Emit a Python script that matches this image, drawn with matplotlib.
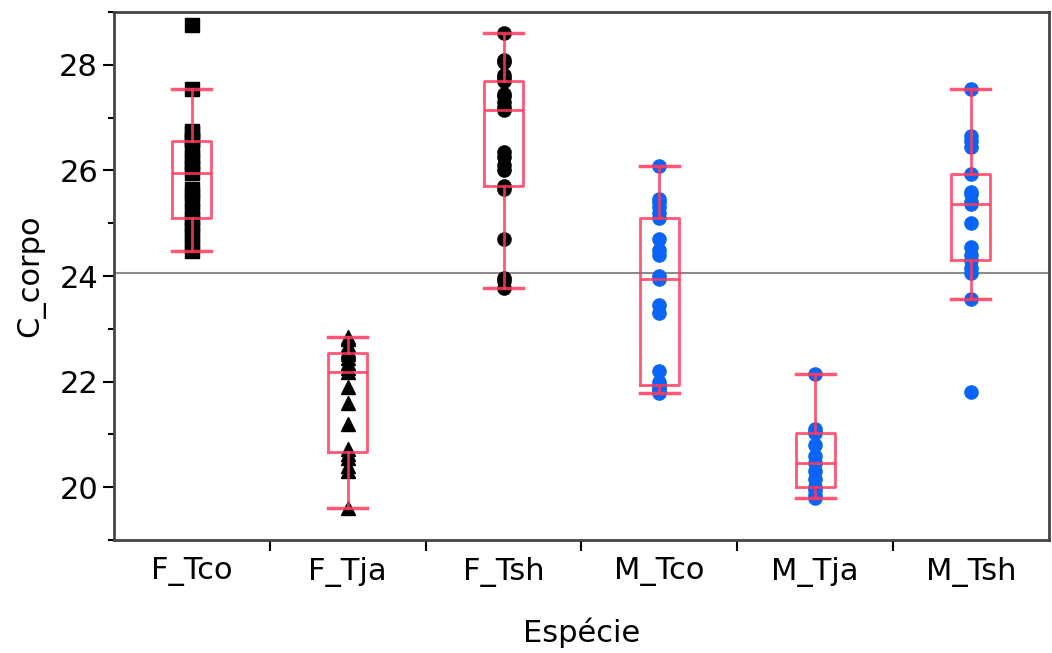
import numpy as np
import matplotlib
matplotlib.use("Agg")
import matplotlib.pyplot as plt
from matplotlib.ticker import MultipleLocator

species = ["F_Tco", "F_Tja", "F_Tsh", "M_Tco", "M_Tja", "M_Tsh"]

f_tco = [24.48, 24.6, 24.75, 24.9, 25.0, 25.1, 25.25, 25.4, 25.55, 25.65, 25.95,
         26.05, 26.15, 26.25, 26.4, 26.55, 26.6, 26.7, 26.75, 27.55, 28.75]
f_tja = [19.6, 20.3, 20.4, 20.55, 20.62, 20.72, 21.2, 21.6, 21.9, 22.18,
         22.25, 22.35, 22.45, 22.52, 22.56, 22.6, 22.7, 22.8, 22.85]
f_tsh = [23.78, 23.9, 23.97, 24.7, 25.65, 25.7, 26.0, 26.1, 26.25, 26.35, 27.15,
         27.2, 27.3, 27.4, 27.45, 27.7, 27.75, 27.8, 28.05, 28.1, 28.6]
m_tco = [21.78, 21.8, 21.85, 21.9, 21.92, 21.93, 22.0, 22.2, 23.3, 23.45, 23.95,
         24.0, 24.4, 24.5, 24.7, 25.09, 25.2, 25.3, 25.4, 25.45, 26.09]
m_tja = [19.8, 19.85, 19.95, 20.0, 20.15, 20.3, 20.46, 20.6, 20.8, 21.02,
         21.05, 21.1, 22.15]
m_tsh = [21.8, 23.56, 24.05, 24.15, 24.3, 24.4, 24.55, 25.0, 25.37, 25.4,
         25.55, 25.6, 25.93, 26.45, 26.55, 26.65, 27.55]

groups = [f_tco, f_tja, f_tsh, m_tco, m_tja, m_tsh]
markers = ["s", "^", "o", "o", "o", "o"]
colors = ["black", "black", "black", "#0a64f5", "#0a64f5", "#0a64f5"]
grand_mean = 24.05

box_col = "#ff3a5e"

fig = plt.figure(figsize=(10.52, 6.53), dpi=100)
ax = fig.add_axes([0.1084, 0.173, 0.8886, 0.8086])

x = np.arange(len(species))

ax.axhline(grand_mean, color="#8c8c8c", lw=1.5, zorder=1)

for i, vals in enumerate(groups):
    ax.plot([x[i]] * len(vals), vals, linestyle="none", marker=markers[i],
            color=colors[i], ms=9.5, zorder=2)

ax.boxplot(groups, positions=x, widths=0.25, showfliers=False, whis=1.5,
           boxprops=dict(color=box_col, lw=2, alpha=0.85),
           whiskerprops=dict(color=box_col, lw=2, alpha=0.85),
           capprops=dict(color=box_col, lw=2.5, alpha=0.85),
           medianprops=dict(color=box_col, lw=2, alpha=0.85),
           capwidths=0.25, zorder=3)

ax.set_xlim(-0.5, 5.5)
ax.set_ylim(19, 29)

ax.set_xticks(x)
ax.set_xticklabels(species, fontsize=22)
ax.tick_params(axis="x", length=0, pad=12)
ax.set_xticks(np.arange(0.5, 5.5, 1), minor=True)
ax.tick_params(axis="x", which="minor", length=8, width=1.5, direction="out")

ax.yaxis.set_major_locator(MultipleLocator(2))
ax.yaxis.set_minor_locator(MultipleLocator(1))
ax.tick_params(axis="y", labelsize=22, length=8, width=1.5)
ax.tick_params(axis="y", which="minor", length=4, width=1.5)
ax.set_yticks([20, 22, 24, 26, 28])

for s in ax.spines.values():
    s.set_color("#444444")
    s.set_linewidth(2)

ax.set_ylabel("C_corpo", fontsize=22, labelpad=10)
ax.set_xlabel("Espécie", fontsize=22, labelpad=22)

fig.savefig("out.png", dpi=100)
